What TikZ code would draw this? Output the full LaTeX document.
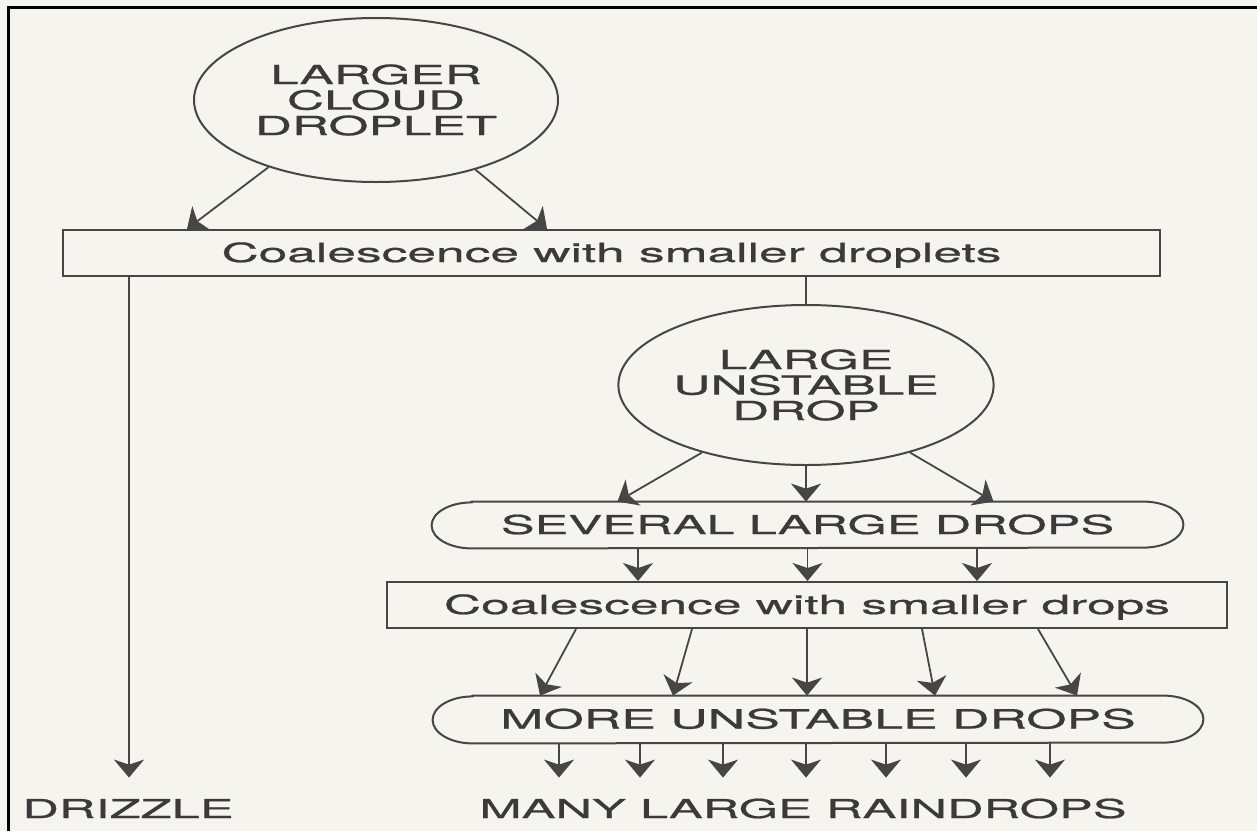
\documentclass[tikz,border=0pt]{standalone}
\usepackage{fontspec}
\newfontfamily\hv[FakeStretch=1.95,FakeBold=0.8]{TeX Gyre Heros}
\usetikzlibrary{shapes.geometric,arrows.meta}
\definecolor{bg}{RGB}{246,244,239}
\definecolor{ln}{RGB}{70,70,70}
\definecolor{tx}{RGB}{58,58,58}
\begin{document}
\begin{tikzpicture}[x=0.5pt,y=-0.5pt,
  line/.style={draw=ln,line width=1pt},
  arr/.style={line,line width=0.9pt,-{Stealth[length=9pt,width=15pt,inset=2.5pt]}},
  lbl/.style={text=tx,inner sep=0pt,font=\hv\fontsize{13.2}{12.75}\selectfont},
  drop/.style={ellipse,line,lbl,minimum width=182pt,minimum height=82pt,align=center},
  box/.style={rectangle,line,lbl,text height=9pt,text depth=0pt},
  pill/.style={rectangle,lbl,text height=9pt,text depth=0pt,font=\hv\fontsize{13}{13}\selectfont},
  captext/.style={lbl,text height=9pt,text depth=0pt}
]
\fill[bg] (0,0) rectangle (1257,831);
\useasboundingbox (0,0) rectangle (1257,831);
\draw[black,line width=1.5pt] (8,831) -- (8,7) -- (1257,7);

% nodes
\node[drop] (c1) at (376,100) {LARGER\\CLOUD\\DROPLET};
\node[box,minimum width=548.5pt,minimum height=23pt] (b1) at (611.5,253) {Coalescence with smaller droplets};
\node[drop,minimum height=80pt] (c2) at (806,385) {LARGE\\UNSTABLE\\DROP};
\node[pill,minimum width=335.5pt,minimum height=23pt] (s1) at (807.5,525) {SEVERAL LARGE DROPS};
\node[box,minimum width=420pt,minimum height=23pt] (b2) at (807,605) {Coalescence with smaller drops};
\node[pill,minimum width=345pt,minimum height=23.5pt,font=\hv\fontsize{13.3}{13}\selectfont] (s2) at (818,719.5) {MORE UNSTABLE DROPS};
\node[captext,font=\hv\fontsize{13}{13}\selectfont] (dz) at (128,809) {DRIZZLE};
\node[captext,font=\hv\fontsize{13}{13}\selectfont] (many) at (803,809) {MANY LARGE RAINDROPS};

% pill outlines
\draw[line] (s1.north west) -- (s1.north east)
  arc[start angle=90,end angle=-90,x radius=20pt,y radius=11.5pt]
  -- (s1.south west)
  arc[start angle=270,end angle=90,x radius=20pt,y radius=11.5pt] -- cycle;
\draw[line] (s2.north west) -- (s2.north east)
  arc[start angle=90,end angle=-90,x radius=20pt,y radius=11.75pt]
  -- (s2.south west)
  arc[start angle=270,end angle=90,x radius=20pt,y radius=11.75pt] -- cycle;

% connectors
\draw[arr] (c1.212) -- ([xshift=62.5pt]b1.north west);
\draw[arr] (c1.325) -- ([xshift=242.5pt]b1.north west);
\draw[line] (b1.south -| c2.north) -- (c2.north);
\coordinate (d0) at ([xshift=33.5pt]b1.south west);
\draw[arr,shorten >=11pt] (d0) -- (d0 |- dz.north);

\draw[arr] (c2.213) -- ([xshift=-95pt]s1.north);
\draw[arr] (c2.south) -- (c2.south |- s1.north);
\draw[arr] (c2.327) -- ([xshift=93pt]s1.north);

\foreach \dx in {-84.75,0,84.75}{
  \coordinate (n) at ([xshift=\dx pt]s1.south);
  \draw[arr] (n) -- (n |- b2.north);
}
\foreach \a/\b in {-115.5/-139,-57.5/-72.5,0/-5.5,57.5/58.5,115.5/129.5}
  \draw[arr] ([xshift=\a pt]b2.south) -- ([xshift=\b pt]s2.north);

\foreach \dx [count=\i] in {-122,-81.5,-40,1.5,41.5,81.5,123.5}{
  \coordinate (m\i) at ([xshift=\dx pt]many.north);
  \draw[arr,shorten >=11pt] (m\i |- s2.south) -- (m\i);
}
\end{tikzpicture}
\end{document}
